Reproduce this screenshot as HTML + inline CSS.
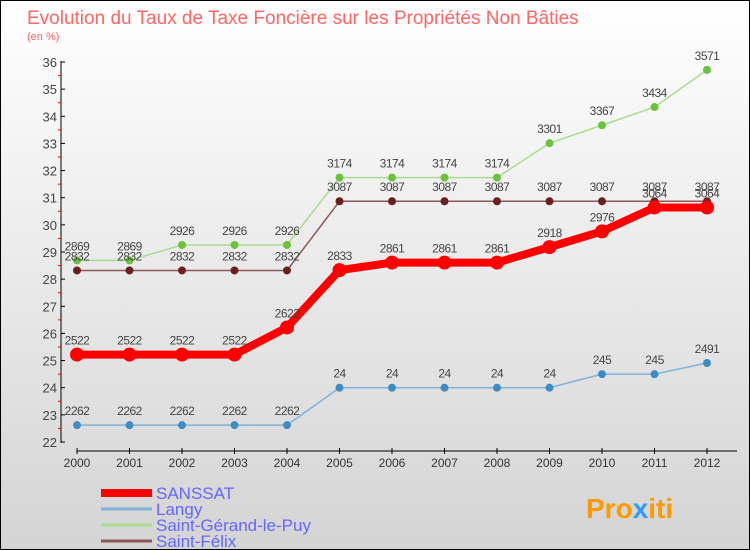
<!DOCTYPE html>
<html><head><meta charset="utf-8"><style>
body{margin:0;}
#c{width:750px;height:550px;position:relative;background:linear-gradient(#ffffff,#d4d4d4);box-sizing:border-box;border:1px solid #000;overflow:hidden;font-family:"Liberation Sans",sans-serif;}
</style></head><body>
<div id="c">
<svg id="s" width="750" height="550" style="position:absolute;left:0;top:0">
<text x="26" y="23" font-size="19" fill="#ff6666" font-family="Liberation Sans">Evolution du Taux de Taxe Foncière sur les Propriétés Non Bâties</text>
<text x="26" y="39" font-size="11" fill="#ff6666">(en %)</text>
<text x="585" y="517" font-size="28" font-weight="bold" fill="#ff9900" font-family="Liberation Sans">Pro<tspan fill="#3399ff">x</tspan>iti</text>
</svg>
</div>
<script>
const years=[2000,2001,2002,2003,2004,2005,2006,2007,2008,2009,2010,2011,2012];
const sanssat=[25.22,25.22,25.22,25.22,26.22,28.33,28.61,28.61,28.61,29.18,29.76,30.64,30.64];
const langy=[22.62,22.62,22.62,22.62,22.62,24,24,24,24,24,24.5,24.5,24.91];
const gerand=[28.69,28.69,29.26,29.26,29.26,31.74,31.74,31.74,31.74,33.01,33.67,34.34,35.71];
const felix=[28.32,28.32,28.32,28.32,28.32,30.87,30.87,30.87,30.87,30.87,30.87,30.87,30.87];
const yTicks=[22,23,24,25,26,27,28,29,30,31,32,33,34,35,36];
const svg=document.getElementById('s');
const NS='http://www.w3.org/2000/svg';
const X=i=>76+i*(706-76)/(years.length-1);
const Y=v=>441-(v-22)*(441-61)/14;
function mk(t,a,p){const e=document.createElementNS(NS,t);for(const k in a)e.setAttribute(k,a[k]);(p||svg).appendChild(e);return e;}
const ax=mk('g',{});


mk('line',{x1:60,y1:60,x2:60,y2:442,stroke:'#000'},ax);
yTicks.forEach(v=>{
 mk('line',{x1:60,x2:64,y1:Y(v),y2:Y(v),stroke:'#000'},ax);
 if(v<36)mk('line',{x1:57,x2:60,y1:Y(v+0.5),y2:Y(v+0.5),stroke:'#f00'},ax);
 const t=mk('text',{x:56,y:Y(v)+5,'text-anchor':'end','font-size':13,fill:'#444'},ax);t.textContent=v;
 
 
});
mk('line',{x1:76,x2:736,y1:450,y2:450,stroke:'#000'},ax);
years.forEach((y,i)=>{
 mk('line',{x1:X(i),x2:X(i),y1:447,y2:453,stroke:'#000'},ax);
 const t=mk('text',{x:X(i),y:466,'text-anchor':'middle','font-size':12,fill:'#333'},ax);t.textContent=y;
 
 
});
function series(name,vals,col,dot,w,r){
 const g=mk('g',{});
 
 
 mk('polyline',{points:vals.map((v,i)=>X(i)+','+Y(v)).join(' '),fill:'none',stroke:col,'stroke-width':w},g);
 vals.forEach((v,i)=>{
  const c=mk('circle',{cx:X(i),cy:Y(v),r:r,fill:dot},g);
  
  
  const t=mk('text',{x:X(i),y:Y(v)-10,'text-anchor':'middle','font-size':12,fill:'#444','letter-spacing':'-0.5'},g);
  t.textContent=String(v).replace('.','');
  
  
 });
}
series('langy',langy,'#7fb2d6','#3d8cc4',1.5,4);
series('saint-gerand',gerand,'#a8dc90','#6cc23c',1.5,4);
series('saint-felix',felix,'#8a5a5a','#6a2020',1.5,4);
series('sanssat',sanssat,'#f00','#f00',8,7);
const leg=[['SANSSAT','#f00',8],['Langy','#7fb2d6',3],['Saint-Gérand-le-Puy','#a8dc90',3],['Saint-Félix','#8a5a5a',3]];
leg.forEach((l,i)=>{
 const g=mk('g',{});
 
 
 const y=492+i*16;
 mk('line',{x1:100,x2:151,y1:y,y2:y,stroke:l[1],'stroke-width':l[2]},g);
 const t=mk('text',{x:155,y:y+6,'font-size':17,fill:'#6666ff'},g);t.textContent=l[0];
});
</script>
</body></html>
